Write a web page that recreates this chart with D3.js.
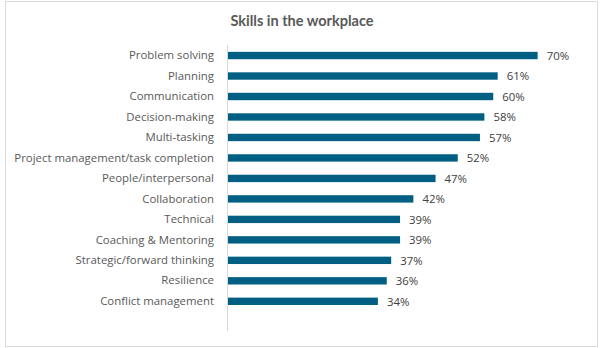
<!DOCTYPE html>
<html>
<head>
<meta charset="utf-8">
<script src="https://cdn.jsdelivr.net/npm/d3@7"></script>
<style>
  html, body { margin: 0; padding: 0; background: #ffffff; }
  svg { display: block; }
</style>
</head>
<body>
<svg id="chart" width="601" height="348"></svg>
<script>
// Share of respondents naming each skill
const skills = [
  "Problem solving",
  "Planning",
  "Communication",
  "Decision-making",
  "Multi-tasking",
  "Project management/task completion",
  "People/interpersonal",
  "Collaboration",
  "Technical",
  "Coaching & Mentoring",
  "Strategic/forward thinking",
  "Resilience",
  "Conflict management"
];
const shares = [0.70, 0.61, 0.60, 0.58, 0.57, 0.52, 0.47, 0.42, 0.39, 0.39, 0.37, 0.36, 0.34];
const chartTitle = "Skills in the workplace";

const svg = d3.select("#chart");

// chart frame
svg.append("rect")
  .attr("x", 5.5).attr("y", 1.5)
  .attr("width", 592).attr("height", 345)
  .attr("fill", "#ffffff")
  .attr("stroke", "#d9d9d9")
  .attr("stroke-width", 1);

// title
svg.append("text")
  .attr("x", 302).attr("y", 26)
  .attr("text-anchor", "middle")
  .attr("font-family", "Lato, 'Open Sans', sans-serif")
  .attr("font-weight", "bold")
  .attr("font-size", 14.5)
  .attr("fill", "#595959")
  .text(chartTitle);

const plot = { left: 227, top: 45, bottom: 331 };

const x = d3.scaleLinear().domain([0, 0.8]).range([plot.left, plot.left + 355]);
const y = d3.scaleBand()
  .domain(skills)
  .range([plot.top + 0.3, plot.top + 0.3 + 20.48 * skills.length])
  .paddingInner(0.64)
  .paddingOuter(0.32);

const data = skills.map((s, i) => ({ skill: s, value: shares[i] }));

// bars
svg.append("g")
  .selectAll("rect")
  .data(data)
  .join("rect")
  .attr("x", x(0))
  .attr("y", d => y(d.skill))
  .attr("width", d => x(d.value) - x(0))
  .attr("height", y.bandwidth())
  .attr("fill", "#005f83");

// category axis
const yAxis = svg.append("g")
  .attr("transform", `translate(${plot.left},0)`)
  .call(d3.axisLeft(y).tickSize(0).tickPadding(13));
yAxis.select(".domain").remove();
yAxis.selectAll("text")
  .attr("font-family", "'Open Sans', sans-serif")
  .attr("font-size", 11.4)
  .attr("fill", "#595959");

// axis line spanning the plot area
svg.append("line")
  .attr("x1", plot.left + 0.5).attr("x2", plot.left + 0.5)
  .attr("y1", plot.top).attr("y2", plot.bottom)
  .attr("stroke", "#d9d9d9")
  .attr("stroke-width", 1);

// value labels
const pct = d3.format(".0%");
svg.append("g")
  .selectAll("text")
  .data(data)
  .join("text")
  .attr("x", d => x(d.value) + 9)
  .attr("y", d => y(d.skill) + y.bandwidth() / 2)
  .attr("dy", "0.38em")
  .attr("font-family", "'Open Sans', sans-serif")
  .attr("font-size", 11.4)
  .attr("fill", "#404040")
  .text(d => pct(d.value));
</script>
</body>
</html>
